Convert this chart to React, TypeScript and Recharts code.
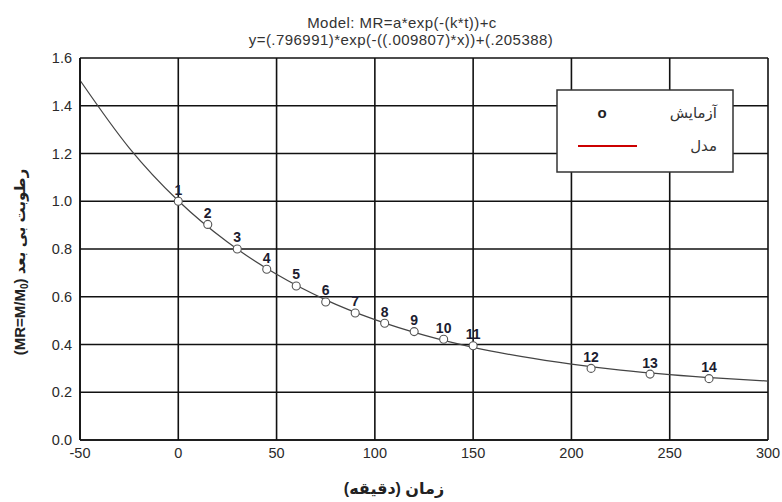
import React from 'react';
import {
  ComposedChart,
  Line,
  Scatter,
  XAxis,
  YAxis,
  CartesianGrid,
  LabelList,
} from 'recharts';

// Experimental points (time in minutes, MR)
const timeMin = [0, 15, 30, 45, 60, 75, 90, 105, 120, 135, 150, 210, 240, 270];
const mrObserved = [1.0, 0.903, 0.8, 0.715, 0.645, 0.578, 0.532, 0.489, 0.454, 0.422, 0.395, 0.3, 0.276, 0.257];
const pointIds = ['1', '2', '3', '4', '5', '6', '7', '8', '9', '10', '11', '12', '13', '14'];

// Fitted model curve samples
const curveX = [-50, -25, 0, 25, 50, 75, 100, 125, 150, 175, 200, 225, 250, 275, 300];
const curveY = [1.507, 1.224, 1.002, 0.829, 0.694, 0.587, 0.504, 0.439, 0.388, 0.349, 0.318, 0.293, 0.274, 0.259, 0.247];

const xTicks = [-50, 0, 50, 100, 150, 200, 250, 300];
const yTicks = [0, 0.2, 0.4, 0.6, 0.8, 1.0, 1.2, 1.4, 1.6];

const titleLine1 = 'Model: MR=a*exp(-(k*t))+c';
const titleLine2 = 'y=(.796991)*exp(-((.009807)*x))+(.205388)';
const xLabel = 'زمان (دقیقه)';
const legendObs = 'آزمایش';
const legendModel = 'مدل';

const points = timeMin.map((t, i) => ({ x: t, y: mrObserved[i], id: pointIds[i] }));
const curve = curveX.map((x, i) => ({ x, y: curveY[i] }));

const FONT = '"Liberation Sans", Arial, "DejaVu Sans", sans-serif';

export default function App() {
  return (
    <div style={{ position: 'absolute', left: 0, top: 0, width: 782, height: 502, background: '#fff', fontFamily: FONT }}>
      <ComposedChart
        width={782}
        height={502}
        margin={{ top: 58, right: 14, bottom: 32, left: 0 }}
      >
        <CartesianGrid stroke="#111" strokeWidth={1.6} horizontal vertical />
        <XAxis
          type="number"
          dataKey="x"
          domain={[-50, 300]}
          ticks={xTicks}
          allowDataOverflow
          tickLine={false}
          axisLine={{ stroke: '#111', strokeWidth: 1.6 }}
          height={30}
          tick={{ fill: '#2a2a2a', fontSize: 14.5, fontFamily: FONT }}
        />
        <YAxis
          type="number"
          dataKey="y"
          domain={[0, 1.6]}
          ticks={yTicks}
          allowDataOverflow
          width={80}
          tickLine={false}
          axisLine={{ stroke: '#111', strokeWidth: 1.6 }}
          tickFormatter={(v: number) => v.toFixed(1)}
          tick={{ fill: '#2a2a2a', fontSize: 14.5, fontFamily: FONT }}
        />
        <Line
          data={curve}
          dataKey="y"
          type="monotone"
          stroke="#444"
          strokeWidth={1.2}
          dot={false}
          activeDot={false}
          isAnimationActive={false}
        />
        <Scatter
          data={points}
          dataKey="y"
          isAnimationActive={false}
          shape={(p: any) => (
            <circle cx={p.cx} cy={p.cy} r={4} fill="#fff" stroke="#555" strokeWidth={1.1} />
          )}
        >
          <LabelList
            dataKey="id"
            position="top"
            offset={2}
            style={{ fill: '#1c1c30', fontSize: 14, fontWeight: 'bold', fontFamily: FONT }}
          />
        </Scatter>
      </ComposedChart>
      <svg
        width={782}
        height={502}
        style={{ position: 'absolute', left: 0, top: 0, pointerEvents: 'none' }}
      >
        <text x={402} y={28} textAnchor="middle" fontSize={15} letterSpacing={0.45} fill="#333" fontFamily={FONT}>
          {titleLine1}
        </text>
        <text x={401} y={45} textAnchor="middle" fontSize={15} letterSpacing={0.45} fill="#333" fontFamily={FONT}>
          {titleLine2}
        </text>
        <text
          x={394}
          y={494}
          textAnchor="middle"
          fontSize={16}
          fontWeight="bold"
          fill="#222"
          fontFamily={FONT}
        >
          {xLabel}
        </text>
        <text
          transform="translate(25 262) rotate(-90)"
          textAnchor="middle"
          fontSize={15}
          fontWeight="bold"
          fill="#222"
          fontFamily={FONT}
        >
          (MR=M/M
          <tspan fontSize={10} dy={3}>0</tspan>
          <tspan dy={-3}>) رطوبت بی بعد</tspan>
        </text>
        <rect x={557} y={90} width={176} height={82} fill="#fff" stroke="#333" strokeWidth={1.5} />
        <text x={602} y={118} textAnchor="middle" fontSize={15} fontWeight="bold" fill="#222" fontFamily={FONT}>
          o
        </text>
        <text x={717} y={118} textAnchor="end" fontSize={15} fill="#333" fontFamily={FONT}>
          {legendObs}
        </text>
        <line x1={578} y1={146} x2={637} y2={146} stroke="#cc0000" strokeWidth={2} />
        <text x={717} y={151} textAnchor="end" fontSize={15} fill="#333" fontFamily={FONT}>
          {legendModel}
        </text>
      </svg>
    </div>
  );
}
